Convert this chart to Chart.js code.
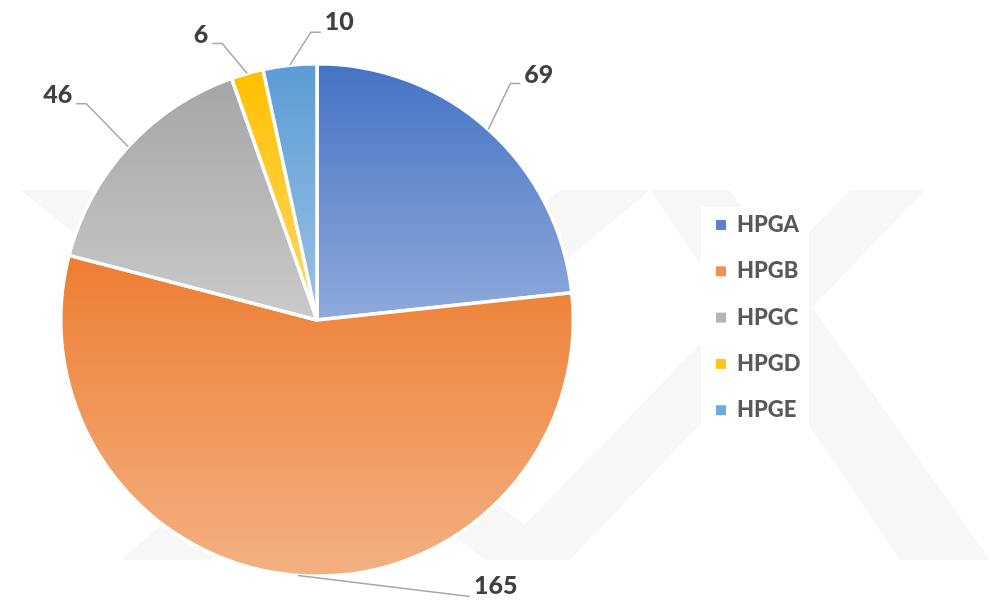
<!DOCTYPE html>
<html>
<head>
<meta charset="utf-8">
<script src="https://cdn.jsdelivr.net/npm/chart.js@4"></script>
<style>
  html, body { margin: 0; padding: 0; background: #fff; }
  #wrap { width: 995px; height: 604px; }
</style>
</head>
<body>
<div id="wrap"><canvas id="pieChart"></canvas></div>
<script>
const labels = ["HPGA", "HPGB", "HPGC", "HPGD", "HPGE"];
const values = [69, 165, 46, 6, 10];

// colours: top of each slice -> bottom of each slice
const topColors = ["#4472C4", "#ED7D31", "#A5A5A5", "#FFC000", "#5B9BD5"];
const bottomColors = ["#8FAADC", "#F4B183", "#CACACA", "#FFD966", "#9DC3E6"];
const legendColors = ["#5B80CC", "#F0905A", "#B5B5B5", "#FFC61A", "#6FA8DC"];

// leader line elbow offsets from the slice edge, and where the text sits
const labelLayout = [
  { dx: 22, dy: -46, tail: 10, side: "right", ty: 0 },
  { dx: 172, dy: 21, tail: 0, side: "right", ty: -3 },
  { dx: -42, dy: -43, tail: 10, side: "left", ty: -1 },
  { dx: -25, dy: -30, tail: 10, side: "left", ty: 0 },
  { dx: 21, dy: -33, tail: 10, side: "right", ty: -2 },
];

function sliceGradient(context) {
  const chart = context.chart;
  const i = context.dataIndex;
  const area = chart.chartArea;
  if (!area) return topColors[i];
  const cx = (area.left + area.right) / 2;
  const cy = (area.top + area.bottom) / 2;
  const r = Math.min(area.right - area.left, area.bottom - area.top) / 2;
  const total = values.reduce((a, b) => a + b, 0);
  let before = 0;
  for (let k = 0; k < i; k++) before += values[k];
  const a0 = -Math.PI / 2 + (before / total) * Math.PI * 2;
  const a1 = a0 + (values[i] / total) * Math.PI * 2;
  let ys = [cy, cy + Math.sin(a0) * r, cy + Math.sin(a1) * r];
  // does the slice pass the very top or bottom of the circle
  [-Math.PI / 2, Math.PI / 2, Math.PI * 1.5].forEach((a) => {
    if (a >= a0 && a <= a1) ys.push(cy + Math.sin(a) * r);
  });
  const yMin = Math.min(...ys);
  const yMax = Math.max(...ys);
  const g = chart.ctx.createLinearGradient(0, yMin, 0, yMax);
  g.addColorStop(0, topColors[i]);
  g.addColorStop(1, bottomColors[i]);
  return g;
}

const watermark = {
  id: "watermark",
  beforeDraw(chart) {
    const ctx = chart.ctx;
    const shapes = [
      [[20, 190], [90, 190], [570, 560], [485, 560]],
      [[560, 190], [650, 190], [210, 560], [120, 560]],
      [[650, 190], [730, 190], [990, 560], [900, 560]],
      [[850, 190], [925, 190], [570, 560], [490, 560]],
    ];
    ctx.save();
    ctx.fillStyle = "#f7f7f7";
    shapes.forEach((s) => {
      ctx.beginPath();
      s.forEach((p, k) => (k ? ctx.lineTo(p[0], p[1]) : ctx.moveTo(p[0], p[1])));
      ctx.closePath();
      ctx.fill();
    });
    ctx.restore();
  },
};

const leaderLabels = {
  id: "leaderLabels",
  afterDatasetsDraw(chart) {
    const ctx = chart.ctx;
    const meta = chart.getDatasetMeta(0);
    ctx.save();
    meta.data.forEach((arc, i) => {
      const p = arc.getProps(["x", "y", "startAngle", "endAngle", "outerRadius"], true);
      const mid = (p.startAngle + p.endAngle) / 2;
      const ex = p.x + Math.cos(mid) * p.outerRadius;
      const ey = p.y + Math.sin(mid) * p.outerRadius;
      const lay = labelLayout[i];
      const bx = ex + lay.dx;
      const by = ey + lay.dy;
      const dir = lay.side === "right" ? 1 : -1;
      const tx = bx + dir * lay.tail;
      ctx.strokeStyle = "#A6A6A6";
      ctx.lineWidth = 1.5;
      ctx.beginPath();
      ctx.moveTo(ex, ey);
      ctx.lineTo(bx, by);
      ctx.lineTo(tx, by);
      ctx.stroke();
      ctx.fillStyle = "#404040";
      ctx.font = "900 25px Lato";
      ctx.textAlign = lay.side === "right" ? "left" : "right";
      ctx.textBaseline = "alphabetic";
      ctx.fillText(String(values[i]), tx + dir * 4, by + lay.ty);
    });
    ctx.restore();
  },
};

const sideLegend = {
  id: "sideLegend",
  afterDraw(chart) {
    const ctx = chart.ctx;
    ctx.save();
    ctx.fillStyle = "#ffffff";
    ctx.fillRect(701, 207, 108, 230);
    labels.forEach((name, i) => {
      const y = 225 + i * 46.3;
      ctx.fillStyle = legendColors[i];
      ctx.fillRect(716, y - 5, 10, 10);
      ctx.fillStyle = "#595959";
      ctx.font = "900 22px Lato";
      ctx.textAlign = "left";
      ctx.textBaseline = "middle";
      ctx.fillText(name, 737, y);
    });
    ctx.restore();
  },
};

const ctx = document.getElementById("pieChart").getContext("2d");
const chart = new Chart(ctx, {
  type: "pie",
  data: {
    labels: labels,
    datasets: [
      {
        data: values,
        backgroundColor: sliceGradient,
        borderColor: "#ffffff",
        borderWidth: 3.5,
      },
    ],
  },
  options: {
    responsive: true,
    maintainAspectRatio: false,
    animation: false,
    layout: { padding: { left: 59, right: 420, top: 62, bottom: 26 } },
    plugins: {
      legend: { display: false },
      tooltip: { enabled: false },
    },
  },
  plugins: [watermark, leaderLabels, sideLegend],
});
</script>
</body>
</html>
